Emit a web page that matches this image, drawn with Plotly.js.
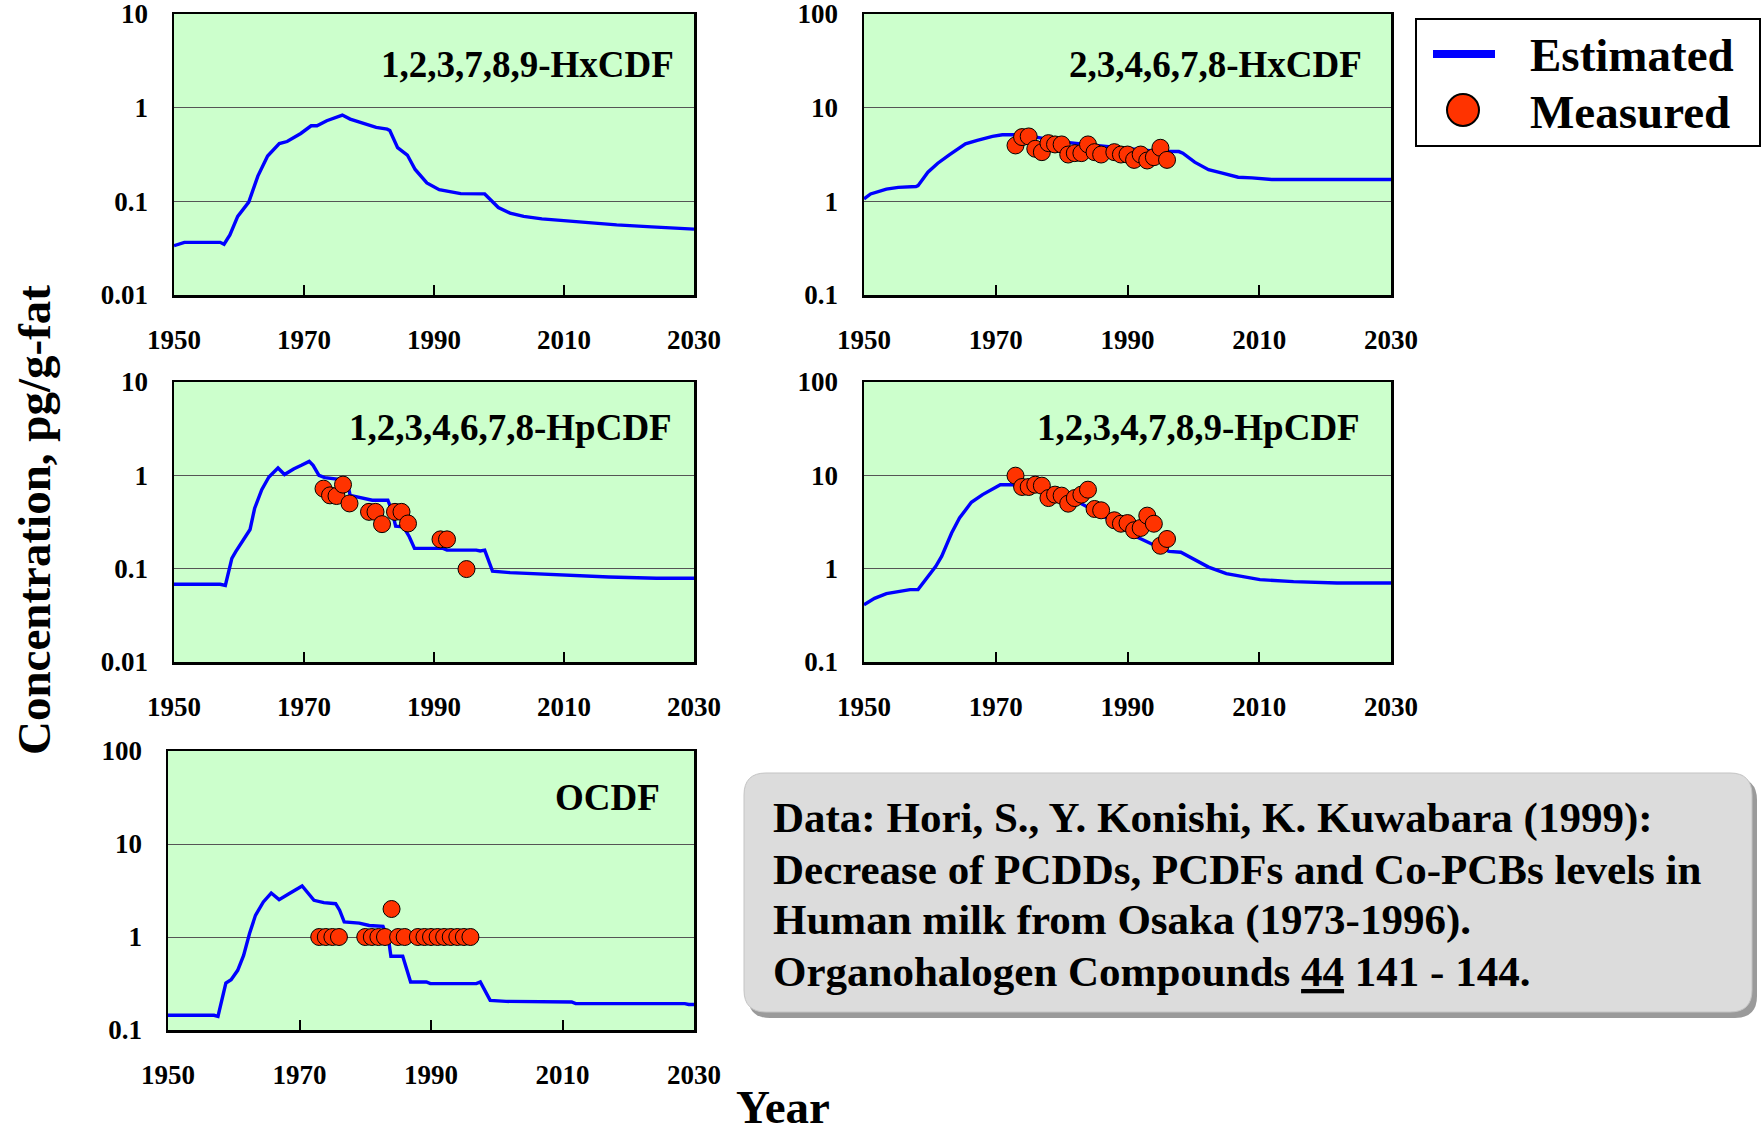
<!DOCTYPE html>
<html>
<head>
<meta charset="utf-8">
<script src="https://cdn.plot.ly/plotly-3.0.1.min.js"></script>
<style>
html,body{margin:0;padding:0;background:#ffffff;}
#chart{width:1762px;height:1138px;}
</style>
</head>
<body>
<div id="chart"></div>
<script>
// ---------------- DATA ----------------
// Panel 1: 1,2,3,7,8,9-HxCDF
const hx123789Years = [1950,1951.6,1957.1,1957.7,1958.6,1959.8,1961.5,1962.9,1964.4,1966.2,1967.4,1969.5,1971.1,1972,1973.5,1975.9,1977.1,1981.1,1982.8,1983.2,1984.4,1985.9,1987.1,1988.9,1990.8,1993.2,1994.1,1997.8,1998.4,1999.9,2001.7,2003.8,2006.6,2010.2,2014.5,2018.1,2023.5,2030];
const hx123789Est = [0.0336,0.0365,0.0365,0.0348,0.0438,0.069,0.098,0.186,0.305,0.413,0.435,0.53,0.64,0.64,0.725,0.834,0.755,0.615,0.59,0.57,0.374,0.312,0.219,0.157,0.133,0.126,0.121,0.12,0.109,0.086,0.075,0.069,0.065,0.062,0.0594,0.0561,0.0534,0.0505];

// Panel 2: 2,3,4,6,7,8-HxCDF
const hx234678Years = [1950,1951,1953.4,1955.2,1957.9,1958.2,1959.7,1961.2,1963,1965.4,1967.2,1969.5,1971,1972.8,1976.1,1980.4,1985.2,1990,1994.2,1997.8,1998.4,2000.2,2002.3,2004.4,2006.8,2008.9,2011.9,2030];
const hx234678Est = [1.06,1.2,1.35,1.41,1.44,1.47,2.05,2.55,3.16,4.11,4.47,4.93,5.14,5.14,4.85,4.29,3.95,3.64,3.43,3.4,3.27,2.62,2.18,2.0,1.81,1.78,1.71,1.71];
const hx234678MeasYears = [1973,1974,1975,1976,1977,1978,1979,1980,1981,1982,1983,1984,1985,1986,1988,1989,1990,1991,1992,1993,1994,1995,1996];
const hx234678Meas = [3.95,4.85,4.93,3.64,3.35,4.18,4.05,4.05,3.16,3.27,3.27,4.05,3.35,3.16,3.35,3.16,3.16,2.77,3.16,2.73,2.96,3.73,2.77];

// Panel 3: 1,2,3,4,6,7,8-HpCDF
const hp1234678Years = [1950,1957.1,1957.9,1958.9,1959.5,1960.7,1961.7,1962.4,1963.5,1964.6,1966,1967,1968.4,1969.6,1970.8,1971.4,1972.3,1973.2,1975,1976.6,1977.1,1978.7,1980.5,1982.9,1983.5,1984.1,1985.3,1986.2,1987,1991.4,1992,1996.5,1997.1,1997.8,1999,2001.7,2006,2010.8,2016.9,2024.2,2030];
const hp1234678Est = [0.068,0.068,0.066,0.129,0.152,0.202,0.263,0.441,0.703,0.96,1.2,1.02,1.17,1.28,1.41,1.28,1.0,0.945,0.92,0.885,0.611,0.578,0.541,0.541,0.423,0.286,0.28,0.22,0.165,0.165,0.158,0.158,0.155,0.158,0.094,0.0906,0.0877,0.0841,0.0815,0.0788,0.0788];
const hp1234678MeasYears = [1973,1974,1975,1976,1977,1980,1981,1982,1984,1985,1986,1991,1992,1995];
const hp1234678Meas = [0.72,0.61,0.6,0.795,0.5,0.406,0.406,0.3,0.406,0.406,0.305,0.206,0.206,0.099];

// Panel 4: 1,2,3,4,7,8,9-HpCDF
const hp1234789Years = [1950,1951.6,1953.4,1955.2,1957,1958.2,1959.7,1960.9,1961.8,1963.3,1964.5,1966.3,1968,1969.5,1970.7,1972.2,1975.5,1979.2,1982.8,1985.2,1988.8,1991.2,1993.6,1996.3,1998.1,2000.2,2002.3,2005,2007.4,2010.1,2015.2,2021.8,2030];
const hp1234789Est = [0.411,0.481,0.54,0.572,0.596,0.596,0.828,1.06,1.36,2.41,3.49,5.14,6.21,7.14,7.94,7.94,7.5,6.21,5.05,4.11,2.84,2.22,1.85,1.53,1.5,1.25,1.04,0.884,0.828,0.762,0.726,0.702,0.702];
const hp1234789MeasYears = [1973,1974,1975,1976,1977,1978,1979,1980,1981,1982,1983,1984,1985,1986,1988,1989,1990,1991,1992,1993,1994,1995,1996];
const hp1234789Meas = [9.92,7.5,7.5,7.94,7.75,5.71,6.21,6.06,4.97,5.71,6.21,7.02,4.36,4.22,3.3,3.03,3.08,2.58,2.73,3.7,3.03,1.76,2.08];

// Panel 5: OCDF
const ocdfYears = [1950,1957,1957.6,1958.2,1958.8,1959.6,1960.6,1961.5,1962.4,1963.3,1964.5,1965.7,1966.9,1968.4,1969.6,1970.4,1972.2,1973.7,1975.5,1976.1,1976.8,1979.1,1980.6,1982.7,1983.6,1983.9,1985.7,1986.9,1989.3,1989.9,1996.9,1997.5,1999,2001.4,2011.4,2012,2028.6,2029.2,2030];
const ocdfEst = [0.144,0.144,0.14,0.208,0.32,0.348,0.438,0.635,1.09,1.71,2.38,2.97,2.52,2.92,3.26,3.54,2.48,2.34,2.28,1.94,1.45,1.41,1.33,1.3,0.884,0.62,0.62,0.328,0.328,0.315,0.315,0.328,0.208,0.203,0.2,0.192,0.192,0.188,0.188];
const ocdfMeasYears = [1973,1974,1975,1976,1980,1981,1982,1983,1984,1985,1986,1988,1989,1990,1991,1992,1993,1994,1995,1996];
const ocdfMeas = [1,1,1,1,1,1,1,1,2,1,1,1,1,1,1,1,1,1,1,1];

// Tick labels
const xTickVals = [1950,1970,1990,2010,2030];
const xTickText = ['1950','1970','1990','2010','2030'];
const yTickValsLow = [0.01,0.1,1,10];
const yTickTextLow = ['0.01','0.1','1','10'];
const yTickValsHigh = [0.1,1,10,100];
const yTickTextHigh = ['0.1','1','10','100'];

const panelTitles = ['1,2,3,7,8,9-HxCDF','2,3,4,6,7,8-HxCDF','1,2,3,4,6,7,8-HpCDF','1,2,3,4,7,8,9-HpCDF','OCDF'];
const seriesNames = ['Estimated','Measured'];
const yAxisTitle = 'Concentration, pg/g-fat';
const xAxisTitle = 'Year';
const citationLines = ['Data: Hori, S., Y. Konishi, K. Kuwabara (1999):','Decrease of PCDDs, PCDFs and Co-PCBs levels in','Human milk from Osaka (1973-1996).','Organohalogen Compounds <u>44</u> 141 - 144.'];

// ---------------- LAYOUT HELPERS ----------------
const W = 1762, H = 1138;
const PX = v => v / W;
const PY = v => 1 - v / H;
const FONT = 'Liberation Serif, Times New Roman, serif';

const panels = [
  {x0:174, x1:694, y0:14,  y1:295,  yr:[-2,1], low:true,  tx:676,  ty:64,
   ex:hx123789Years, ey:hx123789Est, mx:null, my:null},
  {x0:864, x1:1391, y0:14,  y1:295,  yr:[-1,2], low:false, tx:1364, ty:64,
   ex:hx234678Years, ey:hx234678Est, mx:hx234678MeasYears, my:hx234678Meas},
  {x0:174, x1:694, y0:382, y1:662, yr:[-2,1], low:true,  tx:674,  ty:428,
   ex:hp1234678Years, ey:hp1234678Est, mx:hp1234678MeasYears, my:hp1234678Meas},
  {x0:864, x1:1391, y0:382, y1:662, yr:[-1,2], low:false, tx:1362, ty:428,
   ex:hp1234789Years, ey:hp1234789Est, mx:hp1234789MeasYears, my:hp1234789Meas},
  {x0:168, x1:694, y0:751, y1:1030, yr:[-1,2], low:false, tx:662,  ty:797,
   ex:ocdfYears, ey:ocdfEst, mx:ocdfMeasYears, my:ocdfMeas}
];

const data = [];
const layout = {
  width: W, height: H,
  margin: {l:0, r:0, t:0, b:0, pad:0},
  paper_bgcolor: '#ffffff',
  plot_bgcolor: '#ccffcc',
  showlegend: false,
  font: {family: FONT, color: '#000000'},
  annotations: [],
  shapes: []
};

panels.forEach((p, i) => {
  const n = i + 1;
  const xa = 'x' + (n === 1 ? '' : n);
  const ya = 'y' + (n === 1 ? '' : n);
  data.push({
    type: 'scatter', mode: 'lines', x: p.ex, y: p.ey,
    xaxis: xa, yaxis: ya, name: seriesNames[0],
    line: {color: '#0000ff', width: 3.4},
    hoverinfo: 'skip'
  });
  if (p.mx) {
    data.push({
      type: 'scatter', mode: 'markers', x: p.mx, y: p.my,
      xaxis: xa, yaxis: ya, name: seriesNames[1],
      marker: {size: 17, color: '#ff3300', line: {color: '#000000', width: 1}},
      cliponaxis: false, hoverinfo: 'skip'
    });
  }
  const axisCommon = {
    showline: true, mirror: true, linecolor: '#000000', linewidth: 2.5,
    zeroline: false, fixedrange: true, ticklabeloverflow: 'allow'
  };
  layout['xaxis' + (n === 1 ? '' : n)] = Object.assign({}, axisCommon, {
    domain: [PX(p.x0), PX(p.x1)],
    anchor: ya,
    range: [1950, 2030],
    tickmode: 'array', tickvals: xTickVals, ticktext: xTickText,
    ticks: 'inside', ticklen: 10, tickwidth: 2, tickcolor: '#000000',
    showgrid: false,
    ticklabelstandoff: 19,
    tickfont: {family: FONT, size: 27, weight: 'bold', color: '#000000'}
  });
  layout['yaxis' + (n === 1 ? '' : n)] = Object.assign({}, axisCommon, {
    domain: [PY(p.y1), PY(p.y0)],
    anchor: xa,
    type: 'log',
    range: p.yr,
    tickmode: 'array',
    tickvals: p.low ? yTickValsLow : yTickValsHigh,
    ticktext: p.low ? yTickTextLow : yTickTextHigh,
    ticks: '',
    showgrid: true, gridcolor: '#555555', gridwidth: 1,
    ticklabelstandoff: 18,
    tickfont: {family: FONT, size: 27, weight: 'bold', color: '#000000'}
  });
  layout.annotations.push({
    xref: 'paper', yref: 'paper', x: PX(p.tx), y: PY(p.ty),
    xanchor: 'right', yanchor: 'middle', showarrow: false,
    text: panelTitles[i],
    font: {family: FONT, size: 37, weight: 'bold', color: '#000000'}
  });
});

// Axis titles
layout.annotations.push({
  xref: 'paper', yref: 'paper', x: PX(34), y: PY(520),
  xanchor: 'center', yanchor: 'middle', showarrow: false, textangle: -90,
  text: yAxisTitle,
  font: {family: FONT, size: 47, weight: 'bold', color: '#000000'}
});
layout.annotations.push({
  xref: 'paper', yref: 'paper', x: PX(783), y: PY(1107),
  xanchor: 'center', yanchor: 'middle', showarrow: false,
  text: xAxisTitle,
  font: {family: FONT, size: 47, weight: 'bold', color: '#000000'}
});

// Legend (drawn)
layout.shapes.push({type:'rect', xref:'paper', yref:'paper',
  x0:PX(1416), x1:PX(1760), y0:PY(146), y1:PY(19),
  line:{color:'#000000', width:2}, fillcolor:'#ffffff', layer:'below'});
layout.shapes.push({type:'line', xref:'paper', yref:'paper',
  x0:PX(1433), x1:PX(1495), y0:PY(54), y1:PY(54),
  line:{color:'#0000ff', width:8}});
layout.shapes.push({type:'circle', xref:'paper', yref:'paper',
  x0:PX(1447), x1:PX(1479), y0:PY(126), y1:PY(94),
  line:{color:'#000000', width:2}, fillcolor:'#ff3300'});
layout.annotations.push({xref:'paper', yref:'paper', x:PX(1528), y:PY(55),
  xanchor:'left', yanchor:'middle', showarrow:false, text:seriesNames[0],
  font:{family:FONT, size:47, weight:'bold', color:'#000000'}});
layout.annotations.push({xref:'paper', yref:'paper', x:PX(1528), y:PY(112),
  xanchor:'left', yanchor:'middle', showarrow:false, text:seriesNames[1],
  font:{family:FONT, size:47, weight:'bold', color:'#000000'}});

// Citation box (rounded)
function rrect(x0, y0, x1, y1, r) {
  const X = v => PX(v).toFixed(5), Y = v => PY(v).toFixed(5);
  return 'M' + X(x0 + r) + ',' + Y(y0) +
    ' L' + X(x1 - r) + ',' + Y(y0) +
    ' Q' + X(x1) + ',' + Y(y0) + ' ' + X(x1) + ',' + Y(y0 + r) +
    ' L' + X(x1) + ',' + Y(y1 - r) +
    ' Q' + X(x1) + ',' + Y(y1) + ' ' + X(x1 - r) + ',' + Y(y1) +
    ' L' + X(x0 + r) + ',' + Y(y1) +
    ' Q' + X(x0) + ',' + Y(y1) + ' ' + X(x0) + ',' + Y(y1 - r) +
    ' L' + X(x0) + ',' + Y(y0 + r) +
    ' Q' + X(x0) + ',' + Y(y0) + ' ' + X(x0 + r) + ',' + Y(y0) + ' Z';
}
layout.shapes.push({type:'path', xref:'paper', yref:'paper',
  path: rrect(748, 778, 1757, 1018, 22), fillcolor:'#9a9a9a', line:{width:0}});
layout.shapes.push({type:'path', xref:'paper', yref:'paper',
  path: rrect(744, 773, 1752, 1012, 22), fillcolor:'#dcdcdc', line:{color:'#c4c4c4', width:1}});
const citationY = [818, 869, 920, 971];
citationLines.forEach((line, k) => {
  layout.annotations.push({xref:'paper', yref:'paper', x:PX(771), y:PY(citationY[k]),
    xanchor:'left', yanchor:'middle', align:'left', showarrow:false,
    text: line,
    font:{family:FONT, size:43, weight:'bold', color:'#000000'}});
});

Plotly.newPlot('chart', data, layout, {displayModeBar:false, staticPlot:true});
</script>
</body>
</html>
